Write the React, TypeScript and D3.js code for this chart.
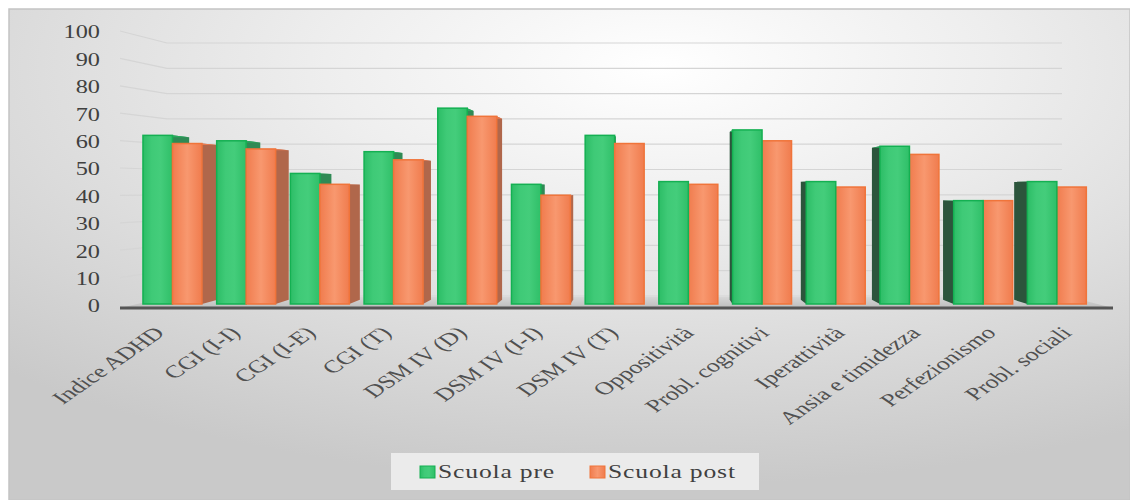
import React from "react";
import * as d3 from "d3";

const categories = [
  "Indice ADHD", "CGI (I-I)", "CGI (I-E)", "CGI (T)", "DSM IV (D)", "DSM IV (I-I)",
  "DSM IV (T)", "Oppositività", "Probl. cognitivi", "Iperattività",
  "Ansia e timidezza", "Perfezionismo", "Probl. sociali",
];
const scuolaPre = [62, 60, 48, 56, 72, 44, 62, 45, 64, 45, 58, 38, 45];
const scuolaPost = [59, 57, 44, 53, 69, 40, 59, 44, 60, 43, 55, 38, 43];
const seriesNames = ["Scuola pre", "Scuola post"];
const yTicks = [0, 10, 20, 30, 40, 50, 60, 70, 80, 90, 100];

const W = 1130, H = 500;
const FONT = "'Liberation Serif', 'Times New Roman', serif";
const SX = 1.35; // horizontal stretch of the picture
const SXL = 1.45;
const VP = { x: 650, y: 186 };
const DEPTH = 0.035;

const xBand = d3.scaleBand<string>().domain(categories).range([135.6, 1093.7]).paddingInner(0.2).paddingOuter(0.1);
const xSub = d3.scaleBand<string>().domain(seriesNames).range([0, xBand.bandwidth()]).padding(0);
const yFront = d3.scaleLinear().domain([0, 100]).range([304, 32]);
const yLabel = d3.scaleLinear().domain([0, 100]).range([306, 32]);
const yBack = d3.scaleLinear().domain([0, 100]).range([296, 43]);

const back = (x: number, y: number): [number, number] => [x + (VP.x - x) * DEPTH, y + (VP.y - y) * DEPTH];

const colors = {
  "Scuola pre": { grad: "gPre", stroke: "#14b052", sideR: "#2f8a55", sideL: "#2c553c", top: "#2aa95e" },
  "Scuola post": { grad: "gPost", stroke: "#f0743a", sideR: "#b0674b", sideL: "#c0694a", top: "#e87a4f" },
};

type Bar = { key: string; s: string; x0: number; x1: number; yt: number; yb: number };

export default function App() {
  const bars: Bar[] = [];
  categories.forEach((c, i) => {
    [scuolaPre[i], scuolaPost[i]].forEach((v, j) => {
      const s = seriesNames[j];
      const x0 = (xBand(c) ?? 0) + (xSub(s) ?? 0);
      bars.push({ key: c + s, s, x0, x1: x0 + xSub.bandwidth(), yt: yFront(v), yb: yFront(0) });
    });
  });
  bars.sort((a, b) => Math.abs((b.x0 + b.x1) / 2 - VP.x) - Math.abs((a.x0 + a.x1) / 2 - VP.x));

  const pts = (p: [number, number][]) => p.map((q) => q.join(",")).join(" ");

  return (
    <svg width={W} height={H} style={{ position: "absolute", left: 0, top: 0 }} fontFamily={FONT}>
      <defs>
        <radialGradient id="bg" cx="0.58" cy="0.12" r="0.85">
          <stop offset="0" stopColor="#ffffff" />
          <stop offset="0.35" stopColor="#eeeeee" />
          <stop offset="1" stopColor="#c9c9c9" />
        </radialGradient>
        <linearGradient id="gPre" x1="0" x2="1" y1="0" y2="0">
          <stop offset="0" stopColor="#2cbd66" />
          <stop offset="0.3" stopColor="#3fca77" />
          <stop offset="0.6" stopColor="#44cd7b" />
          <stop offset="1" stopColor="#2fbf68" />
        </linearGradient>
        <linearGradient id="gPost" x1="0" x2="1" y1="0" y2="0">
          <stop offset="0" stopColor="#f07c4e" />
          <stop offset="0.5" stopColor="#f8986f" />
          <stop offset="1" stopColor="#f07c4e" />
        </linearGradient>
        <linearGradient id="floor" x1="0" x2="0" y1="0" y2="1">
          <stop offset="0" stopColor="#d6d6d6" />
          <stop offset="1" stopColor="#bdbdbd" />
        </linearGradient>
      </defs>
      <rect x={0} y={0} width={W} height={H} fill="#ffffff" />
      <rect x={9} y={9} width={W - 9} height={H - 9} fill="url(#bg)" stroke="#c4c4c4" strokeWidth={1.5} />

      {/* gridlines */}
      {yTicks.map((t) => (
        <g key={"g" + t} stroke="#d5d5d5" strokeWidth={1.2} fill="none">
          <polyline points={pts([[120, yLabel(t) - 1], [167, yBack(t)], [1062, yBack(t)]])} />
        </g>
      ))}

      {/* floor */}
      <polygon points={pts([[120, 308], [1113, 308], [1070, 297], [167, 297]])} fill="url(#floor)" />
      <line x1={120} x2={1113} y1={308} y2={308} stroke="#555555" strokeWidth={3} />

      {/* bars */}
      {bars.map((b) => {
        const c = colors[b.s as keyof typeof colors];
        const tl = back(b.x0, b.yt), tr = back(b.x1, b.yt), bl = back(b.x0, b.yb), br = back(b.x1, b.yb);
        const rightSide = (b.x0 + b.x1) / 2 < VP.x;
        return (
          <g key={b.key}>
            {rightSide ? (
              <polygon points={pts([[b.x1, b.yt], tr, br, [b.x1, b.yb]])} fill={c.sideR} />
            ) : (
              <polygon points={pts([[b.x0, b.yt], tl, bl, [b.x0, b.yb]])} fill={c.sideL} />
            )}
            <polygon points={pts([[b.x0, b.yt], [b.x1, b.yt], tr, tl])} fill={c.top} />
            <rect x={b.x0} y={b.yt} width={b.x1 - b.x0} height={b.yb - b.yt} fill={`url(#${c.grad})`} stroke={c.stroke} strokeWidth={1.5} />
          </g>
        );
      })}

      {/* y axis labels */}
      {yTicks.map((t) => (
        <text key={"y" + t} transform={`translate(100,${yLabel(t)}) scale(${SX},1)`} textAnchor="end" dy="0.35em" fontSize={18} fill="#404040">
          {t}
        </text>
      ))}

      {/* category labels */}
      {categories.map((c) => {
        const cx = (xBand(c) ?? 0) + xBand.bandwidth() / 2;
        return (
          <text key={"c" + c} transform={`translate(${1.0255 * cx - 11},334) scale(${SXL},1) rotate(-45)`} textAnchor="end" fontSize={18} fill="#505050">
            {c}
          </text>
        );
      })}

      {/* legend */}
      <rect x={391} y={453} width={368} height={37} fill="#ebebeb" />
      {seriesNames.map((s, i) => {
        const lx = [420, 590][i];
        const c = colors[s as keyof typeof colors];
        return (
          <g key={"l" + s}>
            <rect x={lx} y={466} width={15} height={12} fill={`url(#${c.grad})`} stroke={c.stroke} strokeWidth={1} />
            <text transform={`translate(${lx + 18},478) scale(${SX},1)`} fontSize={19} fill="#404040" letterSpacing={0.6}>
              {s}
            </text>
          </g>
        );
      })}
    </svg>
  );
}
